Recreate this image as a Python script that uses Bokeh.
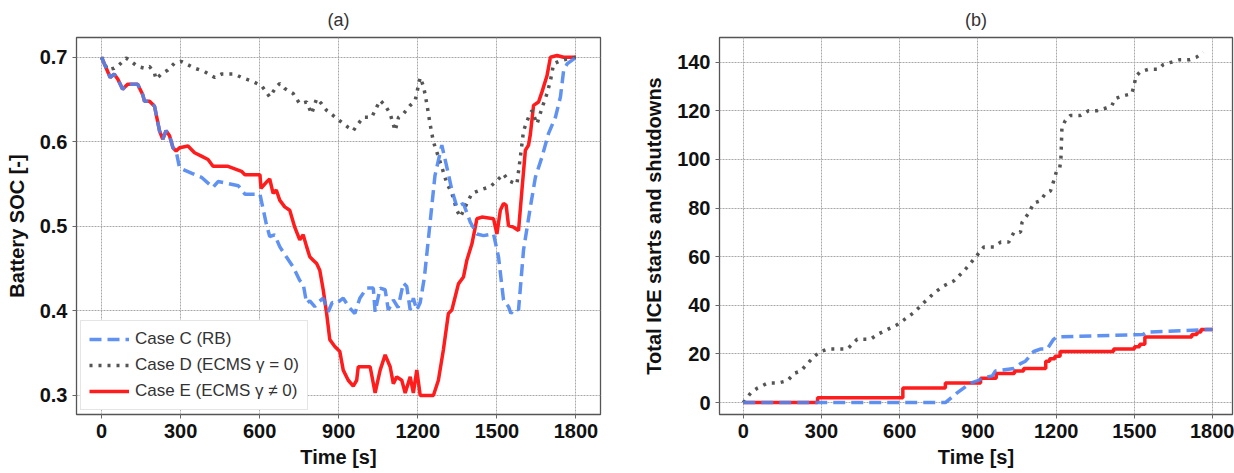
from bokeh.plotting import figure
from bokeh.layouts import row
from bokeh.models import Range1d, Legend, LegendItem
from bokeh.embed import file_html
from bokeh.resources import INLINE

FONT = "Liberation Sans"

# ---------------- data: (a) battery SOC ----------------
soc_c_t = [0, 33, 48, 62, 80, 99, 137, 156, 163, 182, 201, 220, 232, 245, 258, 271, 283, 296, 341, 379,
           423, 442, 519, 544, 601, 625, 638, 657, 676, 701, 727, 752, 765, 778, 790, 809, 825, 841, 860,
           875, 892, 917, 940, 961, 980, 1006, 1031, 1038, 1057, 1076, 1088, 1107, 1125, 1145, 1158, 1171,
           1183, 1196, 1209, 1225, 1245, 1265, 1291, 1310, 1329, 1348, 1373, 1399, 1424, 1449, 1487, 1506,
           1525, 1544, 1553, 1570, 1582, 1601, 1627, 1646, 1671, 1696, 1722, 1741, 1753, 1766, 1800]
soc_c = [0.700, 0.676, 0.680, 0.674, 0.662, 0.668, 0.668, 0.656, 0.648, 0.648, 0.642, 0.613, 0.603, 0.613,
         0.607, 0.593, 0.589, 0.569, 0.563, 0.558, 0.546, 0.553, 0.548, 0.538, 0.538, 0.503, 0.488, 0.490,
         0.476, 0.464, 0.452, 0.436, 0.432, 0.409, 0.412, 0.405, 0.411, 0.415, 0.399, 0.410, 0.409, 0.415,
         0.404, 0.397, 0.415, 0.427, 0.427, 0.399, 0.427, 0.425, 0.401, 0.413, 0.404, 0.433, 0.429, 0.401,
         0.415, 0.401, 0.410, 0.440, 0.500, 0.560, 0.596, 0.570, 0.543, 0.523, 0.527, 0.505, 0.491, 0.489,
         0.491, 0.464, 0.413, 0.405, 0.397, 0.403, 0.401, 0.472, 0.523, 0.558, 0.582, 0.610, 0.629, 0.653,
         0.684, 0.692, 0.700]

soc_d_t = [0, 23, 48, 67, 93, 112, 137, 163, 182, 201, 207, 226, 252, 277, 303, 328, 353, 391, 430, 455,
           506, 531, 569, 608, 638, 663, 676, 695, 727, 752, 778, 797, 816, 835, 854, 879, 911, 936, 955,
           968, 993, 1025, 1044, 1057, 1076, 1095, 1114, 1127, 1145, 1171, 1190, 1209, 1222, 1234, 1247,
           1259, 1272, 1291, 1310, 1329, 1348, 1361, 1380, 1405, 1437, 1475, 1500, 1525, 1544, 1576, 1589,
           1601, 1620, 1633, 1652, 1671, 1690, 1703, 1715, 1741, 1770, 1800]
soc_d = [0.700, 0.685, 0.687, 0.691, 0.699, 0.695, 0.689, 0.687, 0.689, 0.681, 0.674, 0.680, 0.685, 0.693,
         0.695, 0.691, 0.687, 0.683, 0.676, 0.680, 0.680, 0.676, 0.672, 0.666, 0.653, 0.665, 0.669, 0.663,
         0.657, 0.645, 0.647, 0.633, 0.651, 0.645, 0.637, 0.631, 0.623, 0.617, 0.613, 0.619, 0.629, 0.629,
         0.641, 0.649, 0.643, 0.633, 0.613, 0.629, 0.633, 0.643, 0.649, 0.676, 0.665, 0.645, 0.620, 0.600,
         0.588, 0.570, 0.551, 0.539, 0.519, 0.511, 0.523, 0.539, 0.543, 0.547, 0.554, 0.562, 0.554, 0.550,
         0.582, 0.613, 0.629, 0.637, 0.621, 0.640, 0.657, 0.672, 0.692, 0.696, 0.698, 0.700]

soc_e_t = [0, 33, 48, 62, 80, 99, 137, 156, 163, 182, 201, 220, 232, 245, 258, 271, 283, 296, 328, 353,
           379, 404, 423, 480, 531, 544, 601, 605, 625, 638, 651, 663, 676, 695, 714, 733, 752, 765, 778,
           790, 803, 816, 828, 841, 854, 866, 885, 904, 917, 936, 955, 968, 974, 1019, 1038, 1057, 1076,
           1095, 1107, 1120, 1139, 1152, 1171, 1183, 1196, 1209, 1259, 1278, 1297, 1316, 1329, 1342, 1354,
           1373, 1386, 1405, 1418, 1424, 1443, 1487, 1500, 1513, 1525, 1535, 1544, 1563, 1582, 1595, 1608,
           1620, 1627, 1639, 1658, 1671, 1690, 1703, 1728, 1753, 1800]
soc_e = [0.700, 0.676, 0.680, 0.674, 0.662, 0.668, 0.668, 0.656, 0.648, 0.648, 0.642, 0.613, 0.603, 0.613,
         0.607, 0.593, 0.589, 0.593, 0.595, 0.587, 0.583, 0.579, 0.571, 0.571, 0.565, 0.561, 0.561, 0.545,
         0.552, 0.556, 0.539, 0.543, 0.531, 0.523, 0.519, 0.499, 0.484, 0.490, 0.476, 0.464, 0.460, 0.456,
         0.448, 0.425, 0.397, 0.366, 0.358, 0.352, 0.330, 0.318, 0.311, 0.318, 0.334, 0.334, 0.303, 0.330,
         0.348, 0.334, 0.314, 0.322, 0.318, 0.303, 0.322, 0.303, 0.330, 0.300, 0.300, 0.318, 0.354, 0.397,
         0.401, 0.417, 0.432, 0.440, 0.460, 0.479, 0.499, 0.509, 0.511, 0.509, 0.491, 0.519, 0.527, 0.525,
         0.501, 0.499, 0.495, 0.543, 0.590, 0.596, 0.609, 0.643, 0.647, 0.659, 0.678, 0.700, 0.702, 0.700,
         0.700]

# ---------------- data: (b) ICE starts and shutdowns ----------------
ice_c_t = [0, 775, 820, 871, 900, 917, 955, 967, 1038, 1063, 1082, 1114, 1139, 1165, 1190, 1203, 1534,
           1547, 1776, 1800]
ice_c = [0, 0, 4, 8, 9, 10, 11, 13, 14, 16, 17, 21, 22, 22, 26, 27, 28, 29, 30, 30]

ice_d_t = [0, 29, 55, 93, 131, 170, 195, 221, 246, 272, 297, 323, 361, 399, 437, 488, 514, 552, 590, 616,
           654, 692, 731, 769, 807, 845, 877, 900, 923, 961, 987, 1018, 1038, 1063, 1069, 1095, 1114, 1139,
           1159, 1178, 1190, 1201, 1213, 1218, 1222, 1235, 1254, 1292, 1324, 1356, 1388, 1413, 1426, 1452,
           1490, 1500, 1505, 1522, 1553, 1592, 1611, 1643, 1675, 1713, 1738, 1764]
ice_d = [0, 4, 6, 8, 8, 9, 12, 13, 16, 19, 21, 22, 22, 22, 26, 26, 28, 30, 32, 34, 37, 41, 45, 48, 50, 54,
         58, 61, 64, 64, 66, 66, 70, 70, 74, 78, 82, 83, 86, 87, 91, 95, 96, 100, 113, 116, 118, 118, 120,
         120, 121, 122, 125, 126, 127, 131, 134, 136, 137, 137, 139, 140, 141, 141, 142, 144]

ice_e_t = [0, 285, 612, 775, 910, 970, 1040, 1075, 1160, 1175, 1195, 1215, 1420, 1500, 1520, 1540, 1720,
           1740, 1755, 1800]
ice_e = [0, 2, 6, 8, 10, 12, 13, 14, 17, 18, 19, 21, 22, 23, 24, 27, 28, 29, 30, 30]

x_ticks = [0, 300, 600, 900, 1200, 1500, 1800]
soc_ticks = [0.3, 0.4, 0.5, 0.6, 0.7]
ice_ticks = [0, 20, 40, 60, 80, 100, 120, 140]
labels = ["Case C (RB)", "Case D (ECMS \u03b3 = 0)", "Case E (ECMS \u03b3 \u2260 0)"]

BLUE = "#4f86f0"
GRAY = "#555555"
RED = "#ff1c1c"
LW = 3.5


def style(p, title, ylabel, yticks):
    p.title.text = title
    p.title.align = "center"
    p.title.text_font = FONT
    p.title.text_font_style = "normal"
    p.title.text_font_size = "18px"
    p.title.text_color = "#333333"
    p.title.standoff = 15
    p.outline_line_color = "#555555"
    p.outline_line_width = 1.3
    p.xaxis.ticker = x_ticks
    p.yaxis.ticker = yticks
    p.xaxis.axis_label = "Time [s]"
    p.yaxis.axis_label = ylabel
    for ax in (p.xaxis, p.yaxis):
        ax.axis_line_color = None
        ax.major_tick_line_color = "#666666"
        ax.major_tick_out = 4
        ax.major_tick_in = 0
        ax.minor_tick_line_color = None
        ax.major_label_text_font = FONT
        ax.major_label_text_font_style = "bold"
        ax.major_label_text_font_size = "20px"
        ax.major_label_text_color = "#111111"
        ax.axis_label_text_font = FONT
        ax.axis_label_text_font_style = "bold"
        ax.axis_label_text_font_size = "20px"
        ax.axis_label_text_color = "#111111"
        ax.major_label_standoff = 5
    p.xaxis.axis_label_standoff = 5
    p.yaxis.axis_label_standoff = 9
    p.grid.grid_line_color = "#a8a8a8"
    p.grid.grid_line_width = 1
    p.grid.grid_line_dash = "2 1"


# ---------------- (a) ----------------
p1 = figure(width=640, height=473, x_range=Range1d(-95, 1893), y_range=Range1d(0.2775, 0.7233),
            output_backend="svg", toolbar_location=None,
            min_border_left=76, min_border_right=40, min_border_top=37, min_border_bottom=59)
style(p1, "(a)", "Battery SOC [-]", soc_ticks)

r_e = p1.line(soc_e_t, soc_e, line_color=RED, line_width=LW)
r_d = p1.line(soc_d_t, soc_d, line_color=GRAY, line_width=LW, line_dash="3 6")
r_c = p1.line(soc_c_t, soc_c, line_color=BLUE, line_width=LW, line_dash="12 6", line_alpha=0.9)

legend = Legend(items=[LegendItem(label=labels[0], renderers=[r_c]),
                       LegendItem(label=labels[1], renderers=[r_d]),
                       LegendItem(label=labels[2], renderers=[r_e])],
                location="bottom_left")
legend.label_text_font = FONT
legend.label_text_font_size = "17px"
legend.label_text_color = "#333333"
legend.glyph_width = 40
legend.glyph_height = 20
legend.label_height = 20
legend.spacing = 6
legend.padding = 8
legend.margin = 4
legend.label_standoff = 6
legend.border_line_color = "#cccccc"
legend.border_line_width = 1
legend.background_fill_color = "white"
legend.background_fill_alpha = 1
p1.add_layout(legend)

# ---------------- (b) ----------------
p2 = figure(width=594, height=473, x_range=Range1d(-91, 1876), y_range=Range1d(-4.9, 150.1),
            output_backend="svg", toolbar_location=None,
            min_border_left=74, min_border_right=2, min_border_top=37, min_border_bottom=59)
style(p2, "(b)", "Total ICE starts and shutdowns", ice_ticks)

p2.step(ice_e_t, ice_e, mode="after", line_color=RED, line_width=LW)
p2.line(ice_d_t, ice_d, line_color=GRAY, line_width=LW, line_dash="3 6")
p2.line(ice_c_t, ice_c, line_color=BLUE, line_width=LW, line_dash="12 6", line_alpha=0.9)

layout = row(p1, p2)
open("out.html", "w").write(file_html(layout, INLINE))
